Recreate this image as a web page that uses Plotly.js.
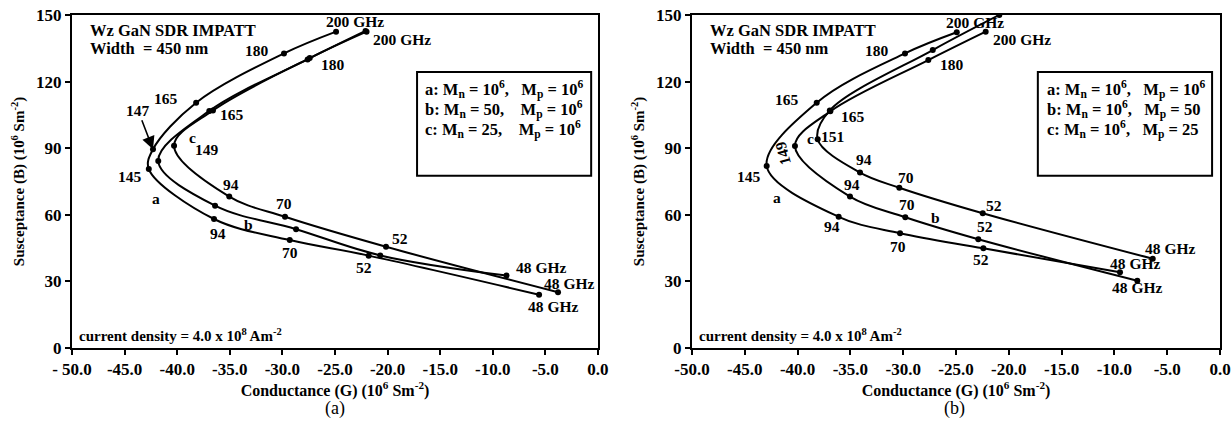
<!DOCTYPE html>
<html><head><meta charset="utf-8">
<script src="https://cdn.plot.ly/plotly-3.0.1.min.js"></script>
<style>html,body{margin:0;padding:0;background:#fff}#chart{width:1232px;height:422px}</style>
</head><body><div id="chart"></div>
<script>
// ---------- Panel (a) data: conductance G, susceptance B, frequency (GHz) ----------
const freqLa = [200, 180, 165, 147, 145, 94, 70, 52, 48];
const gLa    = [-24.9, -29.85, -38.2, -42.3, -42.7, -36.5, -29.3, -21.8, -5.6];
const bLa    = [142.5, 132.7, 110.5, 89.5, 80.6, 58.1, 48.6, 41.6, 24.0];

const freqLb = [200, 180, 165, 147, 94, 70, 52, 48];
const gLb    = [-22.1, -27.6, -36.95, -41.8, -36.4, -28.7, -20.7, -8.7];
const bLb    = [142.8, 130.0, 106.8, 84.2, 64.1, 53.5, 41.7, 32.6];

const freqLc = [200, 180, 165, 149, 94, 70, 52, 48];
const gLc    = [-22.0, -27.4, -36.6, -40.3, -35.05, -29.75, -20.15, -3.8];
const bLc    = [142.5, 130.6, 107.0, 91.1, 68.2, 59.1, 45.6, 25.1];

// ---------- Panel (b) data ----------
const freqRa = [200, 180, 165, 145, 94, 70, 52, 48];
const gRa    = [-24.93, -29.83, -38.19, -42.93, -36.11, -30.3, -22.41, -9.47];
const bRa    = [142.2, 132.7, 110.5, 82.0, 59.1, 51.7, 44.9, 34.1];

const freqRb = [200, 180, 165, 149, 94, 70, 52, 48];
const gRb    = [-22.19, -27.62, -36.9, -40.25, -35.04, -29.8, -22.89, -7.83];
const bRb    = [142.5, 129.7, 106.6, 91.0, 68.2, 58.9, 49.0, 30.3];

const freqRc = [200, 180, 165, 151, 94, 70, 52, 48];
const gRc    = [-20.9, -27.2, -36.95, -38.1, -34.09, -30.37, -22.47, -6.37];
const bRc    = [150.0, 134.2, 107.0, 94.0, 79.0, 72.2, 60.7, 40.2];

// tick labels
const xTickVals = [-50, -45, -40, -35, -30, -25, -20, -15, -10, -5, 0];
const xTickTextL = ['- 50.0', '-45.0', '-40.0', '-35.0', '-30.0', '-25.0', '-20.0', '-15.0', '-10.0', '-5.0', '0.0'];
const xTickTextR = ['-50.0', '-45.0', '-40.0', '-35.0', '-30.0', '-25.0', '-20.0', '-15.0', '-10.0', '-5.0', '0.0'];
const yTickVals = [0, 30, 60, 90, 120, 150];

const legendL = ['a: M<sub>n</sub> = 10<sup>6</sup>,   M<sub>p</sub> = 10<sup>6</sup>',
                 'b: M<sub>n</sub> = 50,    M<sub>p</sub> = 10<sup>6</sup>',
                 'c: M<sub>n</sub> = 25,    M<sub>p</sub> = 10<sup>6</sup>'];
const legendR = ['a: M<sub>n</sub> = 10<sup>6</sup>,   M<sub>p</sub> = 10<sup>6</sup>',
                 'b: M<sub>n</sub> = 10<sup>6</sup>,   M<sub>p</sub> = 50',
                 'c: M<sub>n</sub> = 10<sup>6</sup>,   M<sub>p</sub> = 25'];

// ---------- styling / layout ----------
const SERIF = 'Liberation Serif, Times New Roman, serif';
const fB = (s) => ({family: SERIF, size: s, color: '#000', weight: 'bold'});

function series(g, b, f, xa, ya) {
  return {x: g, y: b, customdata: f, xaxis: xa, yaxis: ya, type: 'scatter', mode: 'lines+markers',
          line: {color: '#000', width: 2, shape: 'spline', smoothing: 1},
          marker: {color: '#000', size: 6}, showlegend: false, hoverinfo: 'x+y'};
}

const data = [
  series(gLa, bLa, freqLa, 'x', 'y'), series(gLb, bLb, freqLb, 'x', 'y'), series(gLc, bLc, freqLc, 'x', 'y'),
  series(gRa, bRa, freqRa, 'x2', 'y2'), series(gRb, bRb, freqRb, 'x2', 'y2'), series(gRc, bRc, freqRc, 'x2', 'y2')
];

const LBL = 15.5;
const annotations = [];
function fl(f) { return (f === 200 || f === 48) ? f + ' GHz' : String(f); }
// labels: [index, xshift, yshift, textOverride, textangle]
function addLabels(g, b, f, xr, yr, list) {
  list.forEach(([i, dx, dy, txt, ang]) => {
    annotations.push({x: g[i], y: b[i], xref: xr, yref: yr, text: txt || fl(f[i]), showarrow: false,
      xshift: dx, yshift: dy, font: fB(LBL), textangle: ang || 0});
  });
}
addLabels(gLa, bLa, freqLa, 'x', 'y', [[0, 19, 10], [1, -27, 3], [2, -30, 4], [4, -19, -7], [4, 7, -29, 'a'],
  [5, 4, -14], [6, 0, -12], [7, -5, -12], [8, 14, -12]]);
addLabels(gLb, bLb, freqLb, 'x', 'y', [[0, 36, -9], [1, 25, -5], [2, 23, -4], [7, 35, 8], [5, -48, 5, 'b']]);
addLabels(gLc, bLc, freqLc, 'x', 'y', [[3, 33, -4], [3, 18, 8, 'c'], [4, 2, 12], [5, -1, 13], [6, 14, 8], [7, 11, 9]]);
// 147 arrow
annotations.push({x: gLa[3], y: bLa[3], xref: 'x', yref: 'y', text: String(freqLa[3]), showarrow: true,
  ax: -15, ay: -39, arrowhead: 2, arrowsize: 1.6, arrowwidth: 1.6, arrowcolor: '#000', font: fB(LBL)});

addLabels(gRa, bRa, freqRa, 'x2', 'y2', [[0, 18, 10], [1, -28, 3], [2, -30, 3], [3, -18, -11], [3, 10, -32, 'a'],
  [4, -7, -10], [5, -2, -13], [6, -2, -11], [7, 15, 9]]);
addLabels(gRb, bRb, freqRb, 'x2', 'y2', [[0, 36, -8], [1, 24, -4], [2, 23, -5], [3, -12, -7, null, -105],
  [4, 2, 12], [5, 2, 13], [6, 7, 13], [7, 0, -7], [5, 30, 0, 'b']]);
addLabels(gRc, bRc, freqRc, 'x2', 'y2', [[3, 15, 3], [3, -7, 1, 'c'], [4, 4, 13], [5, 7, 10], [6, 11, 8], [7, 17, 10]]);

// panel texts
[['x', 'y', legendL], ['x2', 'y2', legendR]].forEach(([xa, ya, leg]) => {
  const xd = xa + ' domain', yd = ya + ' domain';
  annotations.push({xref: xd, yref: yd, x: 0.03, y: 0.953, xanchor: 'left', yanchor: 'middle', showarrow: false,
    text: 'Wz GaN SDR IMPATT', font: fB(16.5)});
  annotations.push({xref: xd, yref: yd, x: 0.03, y: 0.898, xanchor: 'left', yanchor: 'middle', showarrow: false,
    text: 'Width  = 450 nm', font: fB(16.5)});
  annotations.push({xref: xd, yref: yd, x: 0.01, y: 0.04, xanchor: 'left', yanchor: 'middle', showarrow: false,
    text: 'current density = 4.0 x 10<sup>8</sup> Am<sup>-2</sup>', font: fB(15)});
  [0.775, 0.716, 0.657].forEach((yy, k) => {
    annotations.push({xref: xd, yref: yd, x: 0.668, y: yy, xanchor: 'left', yanchor: 'middle', showarrow: false,
      text: leg[k], font: fB(16.5)});
  });
});
annotations.push({xref: 'paper', yref: 'paper', x: 0.272, y: 0.033, xanchor: 'center', yanchor: 'middle',
  showarrow: false, text: '(a)', font: {family: SERIF, size: 18, color: '#000'}});
annotations.push({xref: 'paper', yref: 'paper', x: 0.775, y: 0.033, xanchor: 'center', yanchor: 'middle',
  showarrow: false, text: '(b)', font: {family: SERIF, size: 18, color: '#000'}});

const shapes = [
  {type: 'rect', xref: 'x domain', yref: 'y domain', x0: 0.656, x1: 0.987, y0: 0.517, y1: 0.829, line: {color: '#000', width: 2}},
  {type: 'rect', xref: 'x2 domain', yref: 'y2 domain', x0: 0.655, x1: 0.985, y0: 0.517, y1: 0.829, line: {color: '#000', width: 2}}
];

function xAxis(domain, anchor, ttext) {
  return {domain: domain, anchor: anchor, range: [-50, 0], tickvals: xTickVals, ticktext: ttext,
    ticks: 'outside', ticklen: 5, tickwidth: 2, tickcolor: '#000', showline: true, mirror: true,
    linewidth: 2, linecolor: '#000', showgrid: false, zeroline: false, tickfont: fB(17),
    title: {text: 'Conductance (G) (10<sup>6</sup> Sm<sup>-2</sup>)', font: fB(16), standoff: 0}};
}
function yAxis(domain, anchor) {
  return {domain: domain, anchor: anchor, range: [0, 150], tickvals: yTickVals,
    ticks: 'outside', ticklen: 5, tickwidth: 2, tickcolor: '#000', showline: true, mirror: true,
    linewidth: 2, linecolor: '#000', showgrid: false, zeroline: false, tickfont: fB(17),
    title: {text: 'Susceptance (B) (10<sup>6</sup> Sm<sup>-2</sup>)', font: fB(15), standoff: 8}};
}

const yDom = [0.1754, 0.9645];
const layout = {
  width: 1232, height: 422, margin: {l: 0, r: 0, t: 0, b: 0}, paper_bgcolor: '#fff', plot_bgcolor: '#fff',
  showlegend: false,
  xaxis: xAxis([0.05844, 0.48539], 'y', xTickTextL),
  yaxis: yAxis(yDom, 'x'),
  xaxis2: xAxis([0.56169, 0.99026], 'y2', xTickTextR),
  yaxis2: yAxis(yDom, 'x2'),
  annotations: annotations, shapes: shapes
};
Plotly.newPlot('chart', data, layout, {staticPlot: true, displayModeBar: false});
</script></body></html>
